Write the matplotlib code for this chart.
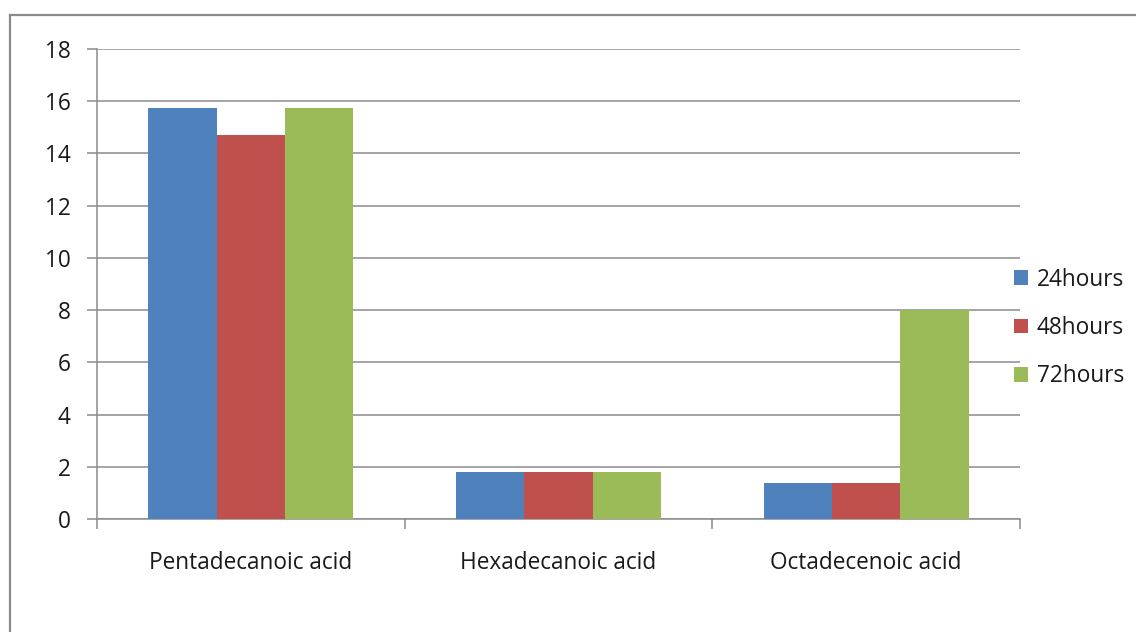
import matplotlib
matplotlib.use("Agg")
import matplotlib.pyplot as plt
from matplotlib.patches import Patch
from matplotlib.lines import Line2D
import numpy as np

categories = ["Pentadecanoic acid", "Hexadecanoic acid", "Octadecenoic acid"]
series_names = ["24hours", "48hours", "72hours"]
values_24h = [15.74, 1.79, 1.38]
values_48h = [14.71, 1.79, 1.38]
values_72h = [15.74, 1.79, 8.0]
colors = ["#4F81BD", "#C0504D", "#9BBB59"]
y_ticks = [0, 2, 4, 6, 8, 10, 12, 14, 16, 18]

plt.rcParams["font.family"] = ["Open Sans", "DejaVu Sans"]
FS = 16.3

W, H = 1136, 632
fig = plt.figure(figsize=(W / 100, H / 100), dpi=100)
ax = fig.add_axes([97 / W, 1 - 519 / H, (1020 - 97) / W, (519 - 49) / H])

x = np.arange(len(categories))
bar_w = 1 / 4.5
series = [values_24h, values_48h, values_72h]
for i, (vals, name, c) in enumerate(zip(series, series_names, colors)):
    ax.bar(x + (i - 1) * bar_w, vals, width=bar_w, color=c, label=name,
           edgecolor="none", zorder=3)

ax.set_xlim(-0.5, len(categories) - 0.5)
ax.set_ylim(0, 18)
ax.set_yticks(y_ticks)
ax.set_yticklabels([str(t) for t in y_ticks])
ax.grid(axis="y", color="#8c8c8c", linewidth=1.1, zorder=0)

ax.set_xticks(x)
ax.set_xticklabels(categories)
ax.set_xticks(np.arange(-0.5, len(categories)), minor=True)
ax.tick_params(axis="x", which="major", length=0, pad=23, labelsize=FS,
               colors="#1a1a1a")
ax.tick_params(axis="x", which="minor", length=7, width=1.1, color="#8c8c8c")
ax.tick_params(axis="y", length=7, width=1.1, color="#8c8c8c", pad=12,
               labelsize=FS, labelcolor="#1a1a1a")

for s in ["top", "right"]:
    ax.spines[s].set_visible(False)
for s in ["left", "bottom"]:
    ax.spines[s].set_color("#8c8c8c")
    ax.spines[s].set_linewidth(1.1)

handles = [Patch(facecolor=c, edgecolor="none") for c in colors]
fig.legend(handles, series_names, loc="center left",
           bbox_to_anchor=(1003 / W, 1 - 328 / H), frameon=False,
           fontsize=FS, handlelength=0.6, handleheight=0.6,
           handletextpad=0.4, labelspacing=1.08, borderpad=0,
           labelcolor="#1a1a1a")

# outer chart border
fig.add_artist(Line2D([10 / W, 10 / W], [1 - 15 / H, 0], color="#8a8a8a",
                      linewidth=1.6, transform=fig.transFigure))
fig.add_artist(Line2D([10 / W, 1], [1 - 15 / H, 1 - 15 / H], color="#8a8a8a",
                      linewidth=1.6, transform=fig.transFigure))

fig.savefig("out.png", dpi=100)
